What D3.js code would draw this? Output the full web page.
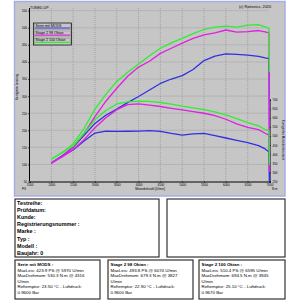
<!DOCTYPE html>
<html>
<head>
<meta charset="utf-8">
<script src="https://cdn.jsdelivr.net/npm/d3@7"></script>
<style>
body { margin: 0; background: #fff; }
text { font-family: Arial, "Liberation Sans", sans-serif; }
</style>
</head>
<body>
<svg id="chart" width="300" height="300"></svg>
<script>
// axis ticks
const rpmTicks = [1500, 2000, 2500, 3000, 3500, 4000, 4500, 5000, 5500, 6000, 6500, 7000];
const psTicks = [50, 100, 150, 200, 250, 300, 350, 400, 450, 500, 550];
const nmTicks = [250, 300, 350, 400, 450, 500, 550, 600, 650, 700];

// measured points (last two = run-down at 7000)
const rpm = [2000, 2250, 2500, 2750, 3000, 3250, 3500, 3750, 4000, 4250, 4500, 4750, 5000, 5250, 5500, 5750, 6000, 6250, 6500, 6750, 6900, 6990, 7000];

const seriePs = [104, 125, 150, 185, 220, 244, 262, 281, 299, 318, 337, 350, 360, 378, 404, 417, 423.5, 422, 420, 416, 412, 410, 50];
const serieNm = [352, 390, 423, 472, 516, 527, 525, 526, 527, 530, 525, 514, 505, 512, 514, 502, 489, 476, 464, 447, 429, 412, 245];

const s98Ps = [103, 124, 151, 190, 240, 285, 323, 358, 385, 402, 425, 440, 455, 469, 479, 485, 493.5, 487, 489, 492, 488, 485, 83];
const s98Nm = [352, 385, 425, 480, 545, 600, 645, 672, 677, 670, 662, 652, 643, 634, 625, 612, 592, 567, 548, 535, 515, 505, 302];

const s100Ps = [116, 134, 160, 205, 262, 305, 343, 370, 394, 418, 440, 456, 469, 483, 495, 502, 505, 502, 508, 509, 503, 498, 370];
const s100Nm = [372, 410, 445, 515, 590, 640, 676, 688, 692, 690, 684, 675, 664, 655, 645, 632, 616, 595, 574, 556, 536, 528, 340];

const seriesNames = ["Serie mit MODS", "Stage 2 98 Oktan", "Stage 2 100 Oktan"];
const seriesColors = ["#3030e0", "#e020e0", "#30ee30"];

const infoLabels = ["Testreihe:", "Prüfdatum:", "Kunde:", "Registrierungsnummer :", "Marke :", "Typ :", "Modell :", "Baujahr: 0"];
const runTexts = [
  ["Serie mit MODS :", "MaxLeis: 423.9 PS @ 5970 U/min", "MaxDrehmom: 530.3 N.m @ 4316", "U/min", "Reftemptur: 23.50 °C - Luftdruck:", "0.9600 Bar"],
  ["Stage 2 98 Oktan :", "MaxLeis: 493.8 PS @ 6074 U/min", "MaxDrehmom: 679.3 N.m @ 3827", "U/min", "Reftemptur: 22.90 °C - Luftdruck:", "0.9600 Bar"],
  ["Stage 2 100 Oktan :", "MaxLeis: 510.4 PS @ 6595 U/min", "MaxDrehmom: 694.5 N.m @ 3945", "U/min", "Reftemptur: 25.10 °C - Luftdruck:", "0.9670 Bar"]
];

const svg = d3.select('#chart');

// chart frame
svg.append('rect')
    .attr('x', 14.5).attr('y', 1.5).attr('width', 270.5).attr('height', 194.5)
    .attr('fill', '#c6c6c6').attr('stroke', '#a6aee6').attr('stroke-width', 1.5);

const x = d3.scaleLinear().domain([1500, 7000]).range([29.5, 269.5]);
const yPs = d3.scaleLinear().domain([50, 550]).range([181.5, 10.7]);
const yNm = d3.scaleLinear().domain([250, 700]).range([181.5, 99.6]);

// grid
svg.append('g').selectAll('line')
    .data(rpmTicks.slice(1, -1))
    .join('line')
    .attr('x1', d => x(d)).attr('x2', d => x(d))
    .attr('y1', 8).attr('y2', yPs(50))
    .attr('stroke', '#8c8c8c').attr('stroke-width', 0.6).attr('stroke-dasharray', '1,1');
svg.append('g').selectAll('line')
    .data(psTicks.slice(1))
    .join('line')
    .attr('x1', x(1500)).attr('x2', x(7000))
    .attr('y1', d => yPs(d)).attr('y2', d => yPs(d))
    .attr('stroke', '#8c8c8c').attr('stroke-width', 0.6).attr('stroke-dasharray', '1,1');

// axes
const fmt = d3.format('d');
const axLeft = svg.append('g')
    .attr('transform', `translate(${x(1500)},0)`)
    .call(d3.axisLeft(yPs).tickValues(psTicks).tickFormat(fmt).tickSize(1.5).tickPadding(1));
const axBottom = svg.append('g')
    .attr('transform', `translate(0,${yPs(50)})`)
    .call(d3.axisBottom(x).tickValues(rpmTicks).tickFormat(fmt).tickSize(1.5).tickPadding(1));
const axRight = svg.append('g')
    .attr('transform', `translate(${x(7000)},0)`)
    .call(d3.axisRight(yNm).tickValues(nmTicks).tickFormat(fmt).tickSize(1.5).tickPadding(1.5));

[axLeft, axBottom, axRight].forEach(a => {
    a.selectAll('path').attr('stroke', '#000').attr('stroke-width', 1);
    a.selectAll('line').attr('stroke', '#000').attr('stroke-width', 0.6);
    a.selectAll('text').attr('font-size', '3px').attr('fill', '#000');
});
axLeft.select('path').attr('d', `M0,8V${yPs(50)}`);

// curves
const lineGen = d3.line().x(d => x(d[0])).y(d => d[1]);
const curves = [
    [seriePs, serieNm],
    [s98Ps, s98Nm],
    [s100Ps, s100Nm]
];
curves.forEach((c, k) => {
    const ps = c[0].map((v, i) => [rpm[i], yPs(v)]);
    const nm = c[1].map((v, i) => [rpm[i], yNm(v)]);
    [ps, nm].forEach(pts => {
        svg.append('path')
            .attr('d', lineGen(pts))
            .attr('fill', 'none')
            .attr('stroke', seriesColors[k])
            .attr('stroke-width', 1.3)
            .attr('stroke-linejoin', 'round');
    });
});

// titles
svg.append('text').attr('x', 30).attr('y', 8.5).attr('font-size', '3.6px').text('TUNED-UP');
svg.append('text').attr('x', 271).attr('y', 7.5).attr('font-size', '3.8px')
    .attr('text-anchor', 'end').text('(c) Rotronics, 2020');
svg.append('text').attr('x', 22).attr('y', 190).attr('font-size', '3px').text('PS');
svg.append('text').attr('x', 150).attr('y', 189.5).attr('font-size', '3px')
    .attr('text-anchor', 'middle').text('Motordrehzahl [U/min]');
svg.append('text').attr('x', 272).attr('y', 190).attr('font-size', '3px').text('N.m');
svg.append('text').attr('transform', 'translate(18,87) rotate(-90)')
    .attr('font-size', '3px').attr('text-anchor', 'middle').text('Korrigierte Leistung');
svg.append('text').attr('transform', 'translate(282,140) rotate(90)')
    .attr('font-size', '3px').attr('text-anchor', 'middle').text('Korrigiertes Motordrehmoment');

// legend
const lg = svg.append('g').attr('transform', 'translate(33.5,23)');
lg.append('rect').attr('width', 38).attr('height', 22)
    .attr('fill', '#c6c6c6').attr('stroke', '#000').attr('stroke-width', 0.7);
seriesNames.forEach((name, i) => {
    const g = lg.append('g').attr('transform', `translate(0,${i * 7.2})`);
    g.append('rect').attr('x', 1).attr('y', 0.8).attr('width', 36).attr('height', 6)
        .attr('fill', 'none').attr('stroke', '#7a7a7a').attr('stroke-width', 0.4);
    g.append('text').attr('x', 2).attr('y', 3.8).attr('font-size', '3.6px').text(name);
    g.append('line').attr('x1', 1.5).attr('x2', 36.5).attr('y1', 5).attr('y2', 5)
        .attr('stroke', seriesColors[i]).attr('stroke-width', 1.2);
});

// info area
svg.append('rect').attr('x', 15).attr('y', 199).attr('width', 144).attr('height', 58)
    .attr('fill', '#fff').attr('stroke', '#333').attr('stroke-width', 1.2);
svg.append('rect').attr('x', 167).attr('y', 199).attr('width', 118).attr('height', 58)
    .attr('fill', '#fff').attr('stroke', '#333').attr('stroke-width', 1.2);
infoLabels.forEach((t, i) => {
    svg.append('text').attr('x', 17).attr('y', 205 + i * 7.1)
        .attr('font-size', '5.4px').attr('font-weight', 'bold').text(t);
});

const boxX = [15, 108, 199];
const boxW = [85, 85, 86];
runTexts.forEach((lines, k) => {
    svg.append('rect').attr('x', boxX[k]).attr('y', 260).attr('width', boxW[k]).attr('height', 39)
        .attr('fill', '#fff').attr('stroke', '#333').attr('stroke-width', 1.2);
    lines.forEach((t, i) => {
        svg.append('text').attr('x', boxX[k] + 2.5).attr('y', 266 + i * 5.5)
            .attr('font-size', '4.4px').attr('font-weight', i === 0 ? 'bold' : 'normal')
            .text(t);
    });
});
</script>
</body>
</html>
